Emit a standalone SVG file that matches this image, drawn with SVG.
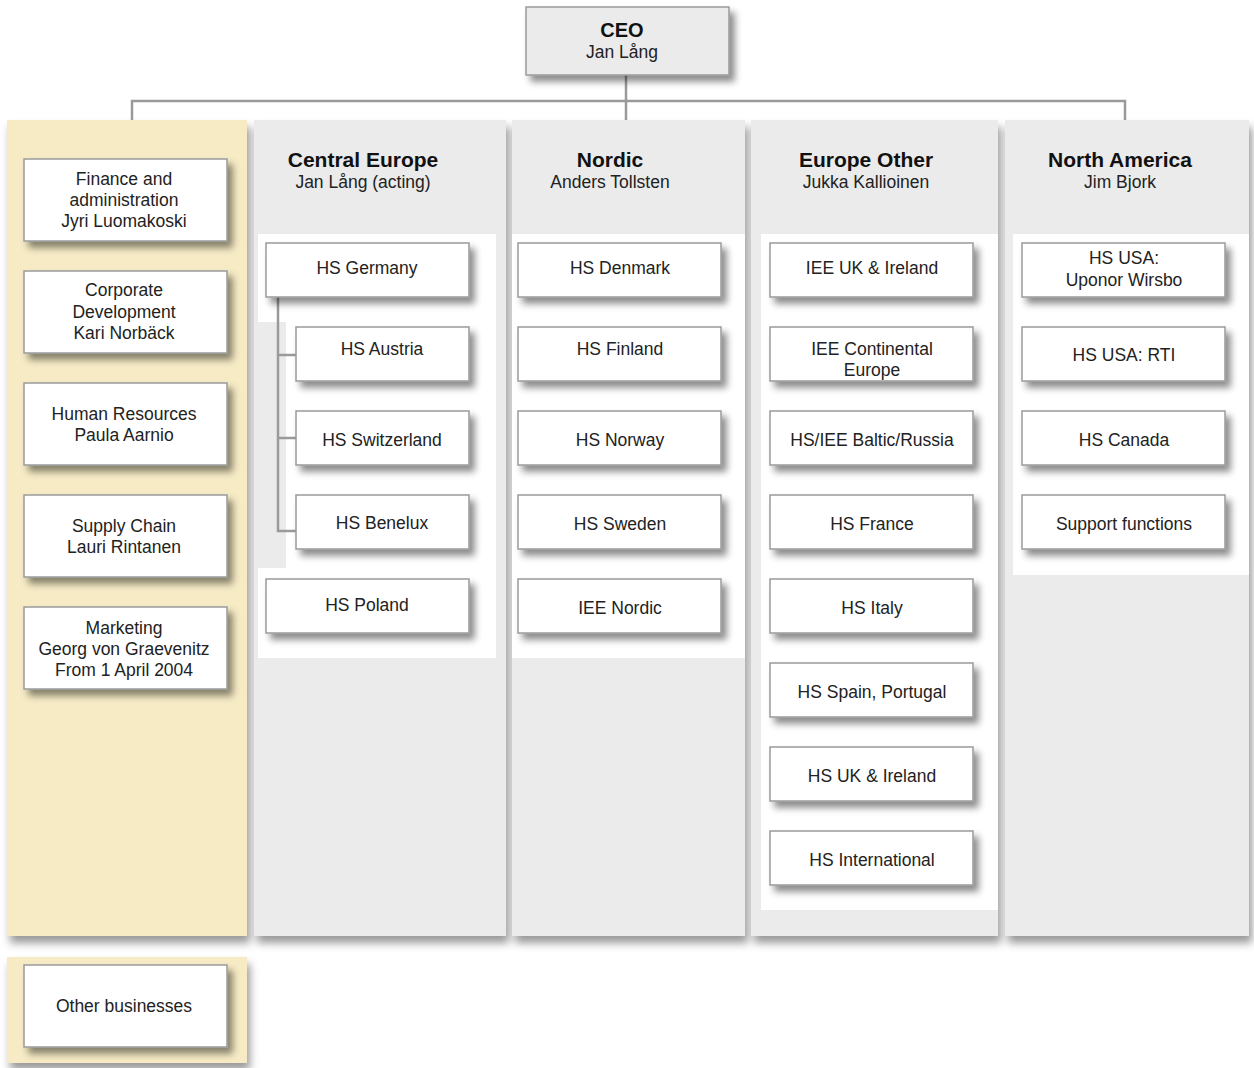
<svg xmlns="http://www.w3.org/2000/svg" width="1254" height="1068" viewBox="0 0 1254 1068">
<style>
.t{font-family:"Liberation Sans",Arial,sans-serif;font-size:17.5px;fill:#222;text-anchor:middle}
.h{font-family:"Liberation Sans",Arial,sans-serif;font-size:21px;font-weight:bold;fill:#111;text-anchor:middle}
.box{fill:#fff;stroke:#9a9a9a;stroke-width:1.5;filter:url(#sh)}
.col{fill:#ebebeb}
.bei{fill:#f6ebc5}
.wp{fill:#fff}
.con{fill:none;stroke:#9a9a9a;stroke-width:2.5}
</style>
<defs>
<filter id="sh" x="-10%" y="-20%" width="130%" height="170%">
<feDropShadow dx="5" dy="6" stdDeviation="3.5" flood-color="#000" flood-opacity="0.45"/>
</filter>
<filter id="csh" x="-5%" y="-5%" width="110%" height="110%">
<feDropShadow dx="3" dy="7" stdDeviation="4.5" flood-color="#000" flood-opacity="0.4"/>
</filter>
</defs>
<rect width="1254" height="1068" fill="#fff"/>
<g id="background">
<g filter="url(#csh)">
<rect class="bei" x="7" y="120" width="240" height="816"/>
<rect class="col" x="254" y="120" width="252" height="816"/>
<rect class="col" x="512" y="120" width="233" height="816"/>
<rect class="col" x="751" y="120" width="247" height="816"/>
<rect class="col" x="1005" y="120" width="244" height="816"/>
<rect class="bei" x="7" y="957" width="240" height="106"/>
</g>
<path class="wp" d="M258,234H496V658H258V568H286V322H258Z"/>
<rect class="wp" x="512" y="234" width="233" height="424"/>
<rect class="wp" x="761" y="234" width="237" height="676"/>
<rect class="wp" x="1013" y="234" width="236" height="341"/>
</g>
<g id="connectors">
<path class="con" d="M626,75V120M132,120V101H1125V120"/>
<path class="con" d="M278,297V531H296M278,355H296M278,438H296"/>
</g>
<g id="ceo">
<rect x="526" y="7" width="203" height="68" fill="#ebebeb" stroke="#9a9a9a" stroke-width="1.5" filter="url(#sh)"/>
<text class="h" x="622" y="37" style="font-size:20px">CEO</text>
<text class="t" x="622" y="58">Jan Lång</text>
</g>
<g id="headers">
<text class="h" x="363" y="167">Central Europe</text>
<text class="t" x="363" y="188">Jan Lång (acting)</text>
<text class="h" x="610" y="167">Nordic</text>
<text class="t" x="610" y="188">Anders Tollsten</text>
<text class="h" x="866" y="167">Europe Other</text>
<text class="t" x="866" y="188">Jukka Kallioinen</text>
<text class="h" x="1120" y="167">North America</text>
<text class="t" x="1120" y="188">Jim Bjork</text>
</g>
<g id="finance"><rect class="box" x="24" y="159" width="203" height="82"/>
<text class="t" x="124" y="185">Finance and</text><text class="t" x="124" y="206">administration</text><text class="t" x="124" y="227">Jyri Luomakoski</text></g>
<g id="corpdev"><rect class="box" x="24" y="271" width="203" height="82"/>
<text class="t" x="124" y="296">Corporate</text><text class="t" x="124" y="318">Development</text><text class="t" x="124" y="339">Kari Norbäck</text></g>
<g id="hr"><rect class="box" x="24" y="383" width="203" height="82"/>
<text class="t" x="124" y="420">Human Resources</text><text class="t" x="124" y="441">Paula Aarnio</text></g>
<g id="supply"><rect class="box" x="24" y="495" width="203" height="82"/>
<text class="t" x="124" y="532">Supply Chain</text><text class="t" x="124" y="553">Lauri Rintanen</text></g>
<g id="marketing"><rect class="box" x="24" y="607" width="203" height="82"/>
<text class="t" x="124" y="634">Marketing</text><text class="t" x="124" y="655">Georg von Graevenitz</text><text class="t" x="124" y="676">From 1 April 2004</text></g>
<g id="other"><rect class="box" x="24" y="965" width="203" height="82"/>
<text class="t" x="124" y="1012">Other businesses</text></g>

<g id="hs-germany"><rect class="box" x="266" y="243" width="203" height="54"/><text class="t" x="367" y="274">HS Germany</text></g>
<g id="hs-austria"><rect class="box" x="296" y="327" width="173" height="54"/><text class="t" x="382" y="355">HS Austria</text></g>
<g id="hs-switzerland"><rect class="box" x="296" y="411" width="173" height="54"/><text class="t" x="382" y="446">HS Switzerland</text></g>
<g id="hs-benelux"><rect class="box" x="296" y="495" width="173" height="54"/><text class="t" x="382" y="529">HS Benelux</text></g>
<g id="hs-poland"><rect class="box" x="266" y="579" width="203" height="54"/><text class="t" x="367" y="611">HS Poland</text></g>

<g id="hs-denmark"><rect class="box" x="518" y="243" width="203" height="54"/><text class="t" x="620" y="274">HS Denmark</text></g>
<g id="hs-finland"><rect class="box" x="518" y="327" width="203" height="54"/><text class="t" x="620" y="355">HS Finland</text></g>
<g id="hs-norway"><rect class="box" x="518" y="411" width="203" height="54"/><text class="t" x="620" y="446">HS Norway</text></g>
<g id="hs-sweden"><rect class="box" x="518" y="495" width="203" height="54"/><text class="t" x="620" y="530">HS Sweden</text></g>
<g id="iee-nordic"><rect class="box" x="518" y="579" width="203" height="54"/><text class="t" x="620" y="614">IEE Nordic</text></g>

<g id="iee-uk"><rect class="box" x="770" y="243" width="203" height="54"/><text class="t" x="872" y="274">IEE UK &amp; Ireland</text></g>
<g id="iee-continental"><rect class="box" x="770" y="327" width="203" height="54"/><text class="t" x="872" y="355">IEE Continental</text><text class="t" x="872" y="376">Europe</text></g>
<g id="hs-baltic"><rect class="box" x="770" y="411" width="203" height="54"/><text class="t" x="872" y="446">HS/IEE Baltic/Russia</text></g>
<g id="hs-france"><rect class="box" x="770" y="495" width="203" height="54"/><text class="t" x="872" y="530">HS France</text></g>
<g id="hs-italy"><rect class="box" x="770" y="579" width="203" height="54"/><text class="t" x="872" y="614">HS Italy</text></g>
<g id="hs-spain"><rect class="box" x="770" y="663" width="203" height="54"/><text class="t" x="872" y="698">HS Spain, Portugal</text></g>
<g id="hs-uk"><rect class="box" x="770" y="747" width="203" height="54"/><text class="t" x="872" y="782">HS UK &amp; Ireland</text></g>
<g id="hs-international"><rect class="box" x="770" y="831" width="203" height="54"/><text class="t" x="872" y="866">HS International</text></g>

<g id="hs-usa-wirsbo"><rect class="box" x="1022" y="243" width="203" height="54"/><text class="t" x="1124" y="264">HS USA:</text><text class="t" x="1124" y="286">Uponor Wirsbo</text></g>
<g id="hs-usa-rti"><rect class="box" x="1022" y="327" width="203" height="54"/><text class="t" x="1124" y="361">HS USA: RTI</text></g>
<g id="hs-canada"><rect class="box" x="1022" y="411" width="203" height="54"/><text class="t" x="1124" y="446">HS Canada</text></g>
<g id="support"><rect class="box" x="1022" y="495" width="203" height="54"/><text class="t" x="1124" y="530">Support functions</text></g>
</svg>
